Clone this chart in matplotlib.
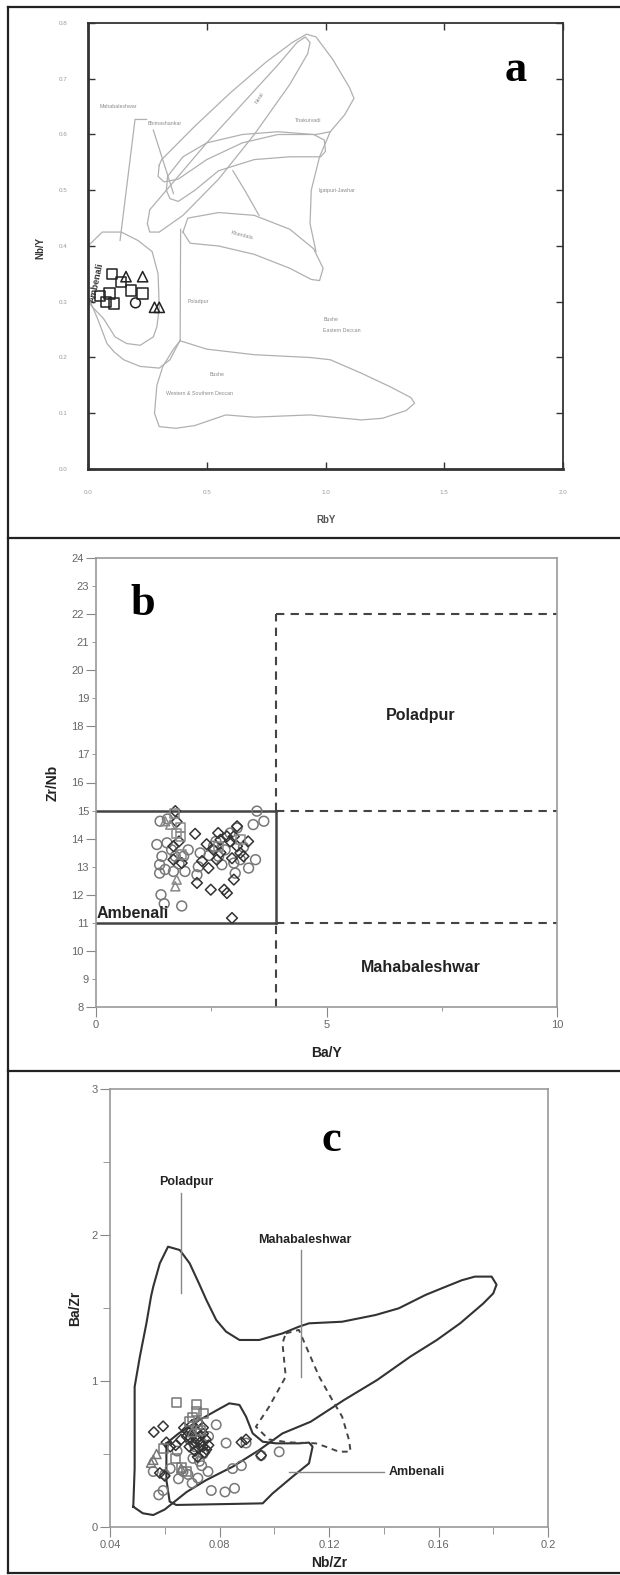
import numpy as np
import matplotlib.pyplot as plt
from matplotlib.lines import Line2D

W, H = 620, 1575

# ---------------- panel a : Nb/Y vs Rb/Y ----------------
a_sq_x = [0.10, 0.14, 0.18, 0.23, 0.09, 0.075, 0.11, 0.05]
a_sq_y = [0.35, 0.335, 0.32, 0.315, 0.315, 0.30, 0.297, 0.31]
a_tri_x = [0.16, 0.23, 0.28, 0.30]
a_tri_y = [0.345, 0.345, 0.29, 0.29]
a_cir_x = [0.20]
a_cir_y = [0.298]

neral = [(0.25, 0.44), (0.26, 0.465), (0.35, 0.51), (0.5, 0.585), (0.65, 0.655),
         (0.8, 0.725), (0.88, 0.765), (0.915, 0.775), (0.935, 0.765), (0.925, 0.745),
         (0.85, 0.69), (0.7, 0.6), (0.55, 0.52), (0.4, 0.455), (0.3, 0.425), (0.26, 0.425)]
thakurvadi = [(0.30, 0.545), (0.31, 0.555), (0.45, 0.615), (0.6, 0.675), (0.75, 0.73),
              (0.86, 0.765), (0.92, 0.78), (0.96, 0.775), (1.03, 0.735), (1.1, 0.685),
              (1.12, 0.665), (1.08, 0.635), (1.02, 0.605), (0.96, 0.60), (0.80, 0.60),
              (0.65, 0.585), (0.5, 0.555), (0.38, 0.52), (0.32, 0.515), (0.295, 0.525)]
arc_band = [(0.33, 0.50), (0.335, 0.525), (0.40, 0.56), (0.5, 0.585), (0.65, 0.60),
            (0.8, 0.605), (0.95, 0.60), (0.995, 0.59), (1.0, 0.57), (0.98, 0.56),
            (0.85, 0.56), (0.7, 0.555), (0.55, 0.535), (0.45, 0.50), (0.38, 0.48), (0.345, 0.485)]
khandala = [(0.40, 0.425), (0.42, 0.45), (0.55, 0.46), (0.7, 0.455), (0.85, 0.43),
            (0.95, 0.395), (0.99, 0.36), (0.975, 0.338), (0.94, 0.34), (0.85, 0.36),
            (0.7, 0.385), (0.55, 0.40), (0.43, 0.405)]
bushe_ws = [(0.388, 0.23), (0.5, 0.215), (0.7, 0.205), (0.935, 0.2), (1.02, 0.196),
            (1.15, 0.172), (1.27, 0.148), (1.36, 0.128), (1.375, 0.118), (1.34, 0.105),
            (1.24, 0.091), (1.15, 0.088), (0.935, 0.097), (0.7, 0.093), (0.58, 0.097),
            (0.45, 0.078), (0.37, 0.073), (0.30, 0.076), (0.28, 0.10), (0.29, 0.15),
            (0.315, 0.184), (0.36, 0.215)]
ambenali_a = [(0.0, 0.40), (0.06, 0.425), (0.14, 0.425), (0.21, 0.41), (0.27, 0.39),
              (0.295, 0.35), (0.30, 0.29), (0.29, 0.255), (0.275, 0.237), (0.22, 0.222),
              (0.163, 0.225), (0.114, 0.237), (0.065, 0.27), (0.02, 0.29), (0.0, 0.30)]
open_lines_a = [
    [(0.0, 0.31), (0.04, 0.27), (0.08, 0.225), (0.11, 0.21), (0.15, 0.196), (0.22, 0.184),
     (0.30, 0.181), (0.345, 0.196), (0.388, 0.231)],
    [(0.388, 0.231), (0.39, 0.43)],
    [(1.02, 0.605), (0.975, 0.56), (0.94, 0.5), (0.935, 0.44), (0.96, 0.39)],
    [(0.61, 0.535), (0.66, 0.50), (0.72, 0.455)],
    [(0.247, 0.627), (0.198, 0.627), (0.135, 0.41)],
    [(0.275, 0.608), (0.36, 0.494)],
]
a_names = [("Mahabaleshwar", 0.05, 0.65, 0), ("Bhimashankar", 0.25, 0.62, 0),
           ("Neral", 0.70, 0.665, 58), ("Thakurvadi", 0.87, 0.626, 0),
           ("Igatpuri-Jawhar", 0.97, 0.50, 0), ("Khandala", 0.60, 0.42, -14),
           ("Poladpur", 0.42, 0.30, 0), ("Bushe", 0.51, 0.17, 0),
           ("Western & Southern Deccan", 0.33, 0.135, 0),
           ("Bushe", 0.99, 0.268, 0), ("Eastern Deccan", 0.99, 0.248, 0)]

# ---------------- panel b : Zr/Nb vs Ba/Y ----------------
b_cir_x = [1.32, 1.43, 1.38, 1.38, 1.41, 1.48, 1.86, 1.39, 1.54, 1.64, 1.90, 1.93, 1.68,
           2.19, 2.22, 2.55, 2.66, 2.73, 2.99, 3.13, 3.31, 3.46, 3.41, 3.64, 3.49, 3.02,
           1.72, 2.26, 2.80, 3.06, 2.91, 1.55, 1.80, 2.60, 2.45, 3.20, 1.50, 2.00]
b_cir_y = [13.79, 13.37, 13.07, 12.77, 12.0, 11.68, 11.6, 14.62, 13.85, 13.6, 13.37, 12.83,
           12.83, 12.71, 13.0, 13.73, 13.37, 13.07, 13.13, 13.25, 12.95, 13.25, 14.5, 14.62,
           14.98, 12.77, 13.37, 13.49, 13.6, 14.38, 14.2, 14.7, 13.1, 13.9, 13.4, 13.7,
           12.9, 13.6]
b_dia_x = [2.15, 2.44, 2.19, 2.49, 2.84, 2.78, 2.99, 2.95, 3.06, 2.70, 2.91, 3.13, 3.20,
           2.62, 1.68, 1.68, 1.86, 2.55, 2.84, 3.06, 2.99, 1.72, 2.40, 2.70, 2.95, 1.80,
           3.30, 2.30, 1.75, 2.65]
b_dia_y = [14.17, 12.95, 12.42, 12.18, 12.06, 12.18, 12.54, 11.17, 14.44, 13.96, 13.90,
           13.49, 13.37, 13.25, 13.73, 13.25, 13.13, 13.60, 14.08, 13.73, 14.08, 14.98,
           13.8, 13.5, 13.3, 13.9, 13.9, 13.2, 14.6, 14.2]
b_sq_x = [1.83, 1.83, 3.13, 1.86, 2.66, 1.75, 1.70]
b_sq_y = [14.38, 14.08, 13.96, 13.43, 13.73, 14.20, 14.9]
b_tri_x = [1.75, 1.72, 1.50, 1.61]
b_tri_y = [12.54, 12.30, 14.62, 14.50]

ba_y_cut = 3.9
zr_nb_lo, zr_nb_hi, zr_nb_top = 11, 15, 22

# ---------------- panel c : Ba/Zr vs Nb/Zr ----------------
c_cir_x = [0.0788, 0.0824, 0.0848, 0.0855, 0.077, 0.0594, 0.0558, 0.0667, 0.0721, 0.0758,
           0.0727, 0.0703, 0.0897, 0.1018, 0.0952, 0.0685, 0.0620, 0.0600, 0.0740, 0.0710,
           0.0760, 0.0880, 0.0650, 0.0700, 0.0578, 0.0820, 0.0735, 0.0645, 0.0690]
c_cir_y = [0.70, 0.575, 0.40, 0.265, 0.25, 0.25, 0.38, 0.38, 0.335, 0.38, 0.45, 0.47, 0.575,
           0.515, 0.49, 0.36, 0.40, 0.36, 0.50, 0.55, 0.62, 0.42, 0.33, 0.30, 0.22, 0.24,
           0.42, 0.52, 0.60]
c_dia_x = [0.0594, 0.0606, 0.0582, 0.0600, 0.0715, 0.0727, 0.0715, 0.0739, 0.0752, 0.0897,
           0.0952, 0.0640, 0.0660, 0.0680, 0.0700, 0.0720, 0.0740, 0.0690, 0.0710, 0.0730,
           0.0750, 0.0760, 0.0700, 0.0680, 0.0670, 0.0740, 0.0560, 0.0620, 0.0720, 0.0880,
           0.0705, 0.0725, 0.0745, 0.0695]
c_dia_y = [0.69, 0.58, 0.37, 0.35, 0.66, 0.62, 0.60, 0.55, 0.53, 0.60, 0.49, 0.56, 0.60,
           0.66, 0.70, 0.72, 0.68, 0.55, 0.52, 0.58, 0.60, 0.56, 0.64, 0.62, 0.68, 0.64,
           0.65, 0.55, 0.48, 0.58, 0.57, 0.54, 0.51, 0.61]
c_sq_x = [0.0642, 0.0715, 0.0715, 0.0700, 0.0594, 0.066, 0.0679, 0.0720, 0.0730, 0.0690,
          0.0640, 0.0740]
c_sq_y = [0.85, 0.84, 0.79, 0.75, 0.54, 0.41, 0.38, 0.70, 0.66, 0.72, 0.47, 0.78]
c_tri_x = [0.0558, 0.0550, 0.0570, 0.0660, 0.0700]
c_tri_y = [0.46, 0.44, 0.50, 0.40, 0.65]

poladpur_c = [(0.0485, 0.139), (0.0490, 0.40), (0.0490, 0.96), (0.0509, 1.166),
              (0.0533, 1.395), (0.0550, 1.58), (0.0558, 1.646), (0.0582, 1.806),
              (0.0612, 1.92), (0.0655, 1.897), (0.0691, 1.806), (0.0727, 1.66),
              (0.0752, 1.555), (0.0788, 1.418), (0.0824, 1.338), (0.0873, 1.281),
              (0.0945, 1.281), (0.103, 1.326), (0.109, 1.372), (0.1127, 1.395),
              (0.1248, 1.406), (0.137, 1.452), (0.1455, 1.498), (0.1552, 1.589),
              (0.1612, 1.635), (0.1685, 1.69), (0.1733, 1.715), (0.1794, 1.715),
              (0.1812, 1.66), (0.18, 1.60), (0.1763, 1.53), (0.1679, 1.395),
              (0.1594, 1.281), (0.1497, 1.167), (0.1376, 1.007), (0.1255, 0.87),
              (0.1133, 0.721), (0.103, 0.641), (0.0945, 0.527), (0.0848, 0.413),
              (0.0752, 0.322), (0.0680, 0.24), (0.0640, 0.18), (0.0600, 0.12),
              (0.0558, 0.082), (0.052, 0.094)]
ambenali_c = [(0.0606, 0.573), (0.0650, 0.64), (0.0727, 0.733), (0.0800, 0.81),
              (0.0836, 0.847), (0.0873, 0.836), (0.0897, 0.756), (0.0921, 0.642),
              (0.0958, 0.584), (0.1006, 0.573), (0.109, 0.573), (0.1127, 0.578),
              (0.114, 0.55), (0.1127, 0.436), (0.1067, 0.345), (0.0994, 0.23),
              (0.097, 0.185), (0.0958, 0.162), (0.0848, 0.158), (0.0642, 0.151),
              (0.0618, 0.174), (0.0606, 0.322)]
mahab_c = [(0.1042, 1.326), (0.109, 1.35), (0.112, 1.22), (0.1164, 1.03), (0.1212, 0.87),
           (0.1248, 0.756), (0.1273, 0.596), (0.1279, 0.516), (0.1236, 0.516),
           (0.1188, 0.55), (0.1152, 0.573), (0.105, 0.58), (0.098, 0.60), (0.0933, 0.687),
           (0.098, 0.82), (0.1042, 1.03), (0.103, 1.258)]


def box(x0, y0, x1, y1):
    return [x0 / W, 1 - y1 / H, (x1 - x0) / W, (y1 - y0) / H]


def outline(ax, pts, closed=True, **kw):
    xs = [p[0] for p in pts]
    ys = [p[1] for p in pts]
    if closed:
        xs.append(xs[0])
        ys.append(ys[0])
    ax.plot(xs, ys, **kw)


def markers(ax, x, y, m, c, s):
    ax.scatter(x, y, marker=m, facecolors='none', edgecolors=c, s=s, linewidths=1.1, zorder=3)


plt.rcParams['font.family'] = ['Liberation Sans', 'DejaVu Sans']
fig = plt.figure(figsize=(6.2, 15.75), dpi=100)

# frame around the three panels
frame = dict(color='#222222', lw=1.6, transform=fig.transFigure)
fig.add_artist(Line2D([8 / W, 8 / W], [1 - 7 / H, 1 - 1573 / H], **frame))
fig.add_artist(Line2D([8 / W, 1], [1 - 7 / H, 1 - 7 / H], **frame))
fig.add_artist(Line2D([8 / W, 1], [1 - 1573 / H, 1 - 1573 / H], **frame))
for ysep in (538, 1071):
    fig.add_artist(Line2D([8 / W, 1], [1 - ysep / H] * 2, **frame))

# ---- a ----
axa = fig.add_axes(box(88, 23, 563, 469))
gl = dict(color='#b0b0b0', lw=0.9)
for poly in (neral, thakurvadi, arc_band, khandala, bushe_ws, ambenali_a):
    outline(axa, poly, **gl)
for seg in open_lines_a:
    outline(axa, seg, closed=False, **gl)
for name, x, y, rot in a_names:
    axa.text(x, y, name, fontsize=3.8, color='#8a8a8a', rotation=rot, va='center')
axa.text(0.035, 0.335, 'Ambenali', fontsize=6.5, weight='bold', color='#333',
         rotation=78, ha='center', va='center')
markers(axa, a_sq_x, a_sq_y, 's', '#222', 55)
markers(axa, a_tri_x, a_tri_y, '^', '#222', 55)
markers(axa, a_cir_x, a_cir_y, 'o', '#222', 50)
axa.set_xlim(0, 2)
axa.set_ylim(0, 0.8)
axa.set_xticks([0, 0.5, 1, 1.5, 2], ['0.0', '0.5', '1.0', '1.5', '2.0'])
axa.set_yticks(np.arange(0, 0.81, 0.1), ['%.1f' % v for v in np.arange(0, 0.81, 0.1)])
axa.tick_params(direction='in', top=True, right=True, length=5, width=1, color='#333',
                labelsize=4.5, labelcolor='#999', pad=15)
for side, w in (('left', 2.0), ('bottom', 2.0), ('top', 1.3), ('right', 1.3)):
    axa.spines[side].set_linewidth(w)
    axa.spines[side].set_color('#333')
axa.text(1.80, 0.716, 'a', fontsize=32, weight='bold', family='Liberation Serif',
         ha='center', va='center')
fig.text(326 / W, 1 - 520 / H, 'RbY', fontsize=7, weight='bold', color='#555',
         ha='center', va='center')
fig.text(40 / W, 1 - 248 / H, 'Nb/Y', fontsize=7, weight='bold', color='#333',
         rotation=90, ha='center', va='center')

# ---- b ----
axb = fig.add_axes(box(96, 558, 557, 1007))
solid = dict(color='#444', lw=1.8)
dash = dict(color='#444', lw=1.5, ls=(0, (4, 3)))
axb.plot([0, ba_y_cut], [zr_nb_hi, zr_nb_hi], **solid)
axb.plot([0, ba_y_cut], [zr_nb_lo, zr_nb_lo], **solid)
axb.plot([ba_y_cut, ba_y_cut], [zr_nb_lo, zr_nb_hi], **solid)
axb.plot([ba_y_cut, ba_y_cut], [zr_nb_hi, zr_nb_top], **dash)
axb.plot([ba_y_cut, ba_y_cut], [8, zr_nb_lo], **dash)
for yy in (zr_nb_top, zr_nb_hi, zr_nb_lo):
    axb.plot([ba_y_cut, 10], [yy, yy], **dash)
markers(axb, b_cir_x, b_cir_y, 'o', '#777', 50)
markers(axb, b_dia_x, b_dia_y, 'D', '#333', 30)
markers(axb, b_sq_x, b_sq_y, 's', '#888', 42)
markers(axb, b_tri_x, b_tri_y, '^', '#888', 42)
axb.text(7.04, 18.4, 'Poladpur', fontsize=11.5, weight='bold', color='#222',
         ha='center', va='center')
axb.text(7.04, 9.4, 'Mahabaleshwar', fontsize=11.5, weight='bold', color='#222',
         ha='center', va='center')
axb.text(0.02, 11.05, 'Ambenali', fontsize=11.5, weight='bold', color='#222',
         ha='left', va='bottom')
axb.text(1.02, 22.36, 'b', fontsize=32, weight='bold', family='Liberation Serif',
         ha='center', va='center')
axb.set_xlim(0, 10)
axb.set_ylim(8, 24)
axb.set_xticks([0, 5, 10], ['0', '5', '10'])
axb.set_xticks([2.5, 7.5], minor=True)
axb.set_yticks(range(8, 25, 2), [str(v) for v in range(8, 25, 2)])
axb.set_yticks(range(9, 24, 2), [str(v) for v in range(9, 24, 2)], minor=True)
axb.tick_params(which='both', color='#888', labelcolor='#666', labelsize=8, pad=2)
axb.tick_params(which='major', length=7)
axb.tick_params(which='minor', length=3)
for sp in axb.spines.values():
    sp.set_color('#999')
    sp.set_linewidth(1.2)
fig.text(326 / W, 1 - 1053 / H, 'Ba/Y', fontsize=10, weight='bold', color='#222',
         ha='center', va='center')
fig.text(53 / W, 1 - 783 / H, 'Zr/Nb', fontsize=10, weight='bold', color='#222',
         rotation=90, ha='center', va='center')

# ---- c ----
axc = fig.add_axes(box(110, 1089, 548, 1527))
dk = dict(color='#333', lw=1.5)
outline(axc, poladpur_c, **dk)
outline(axc, ambenali_c, **dk)
outline(axc, mahab_c, color='#444', lw=1.4, ls=(0, (3, 2.5)))
lead = dict(color='#888', lw=1)
axc.plot([0.066, 0.066], [2.285, 1.6], **lead)
axc.plot([0.1098, 0.1098], [1.897, 1.03], **lead)
axc.plot([0.1055, 0.140], [0.38, 0.38], **lead)
axc.text(0.068, 2.36, 'Poladpur', fontsize=9, weight='bold', color='#222',
         ha='center', va='center')
axc.text(0.1113, 1.966, 'Mahabaleshwar', fontsize=9, weight='bold', color='#222',
         ha='center', va='center')
axc.text(0.1418, 0.377, 'Ambenali', fontsize=9, weight='bold', color='#222',
         ha='left', va='center')
markers(axc, c_cir_x, c_cir_y, 'o', '#777', 46)
markers(axc, c_dia_x, c_dia_y, 'D', '#333', 28)
markers(axc, c_sq_x, c_sq_y, 's', '#777', 42)
markers(axc, c_tri_x, c_tri_y, '^', '#777', 42)
axc.text(0.1207, 2.65, 'c', fontsize=32, weight='bold', family='Liberation Serif',
         ha='center', va='center')
axc.set_xlim(0.04, 0.2)
axc.set_ylim(0, 3)
axc.set_xticks([0.04, 0.08, 0.12, 0.16, 0.2], ['0.04', '0.08', '0.12', '0.16', '0.2'])
axc.set_xticks([0.06, 0.10, 0.14, 0.18], minor=True)
axc.set_yticks([0, 1, 2, 3], ['0', '1', '2', '3'])
axc.set_yticks([0.5, 1.5, 2.5], minor=True)
axc.tick_params(which='both', length=7, color='#888', labelcolor='#666', labelsize=8, pad=2)
axc.tick_params(which='minor', length=5)
for sp in axc.spines.values():
    sp.set_color('#999')
    sp.set_linewidth(1.2)
fig.text(329 / W, 1 - 1563 / H, 'Nb/Zr', fontsize=10, weight='bold', color='#222',
         ha='center', va='center')
fig.text(75 / W, 1 - 1308 / H, 'Ba/Zr', fontsize=10, weight='bold', color='#222',
         rotation=90, ha='center', va='center')

fig.savefig('out.png', dpi=100)
